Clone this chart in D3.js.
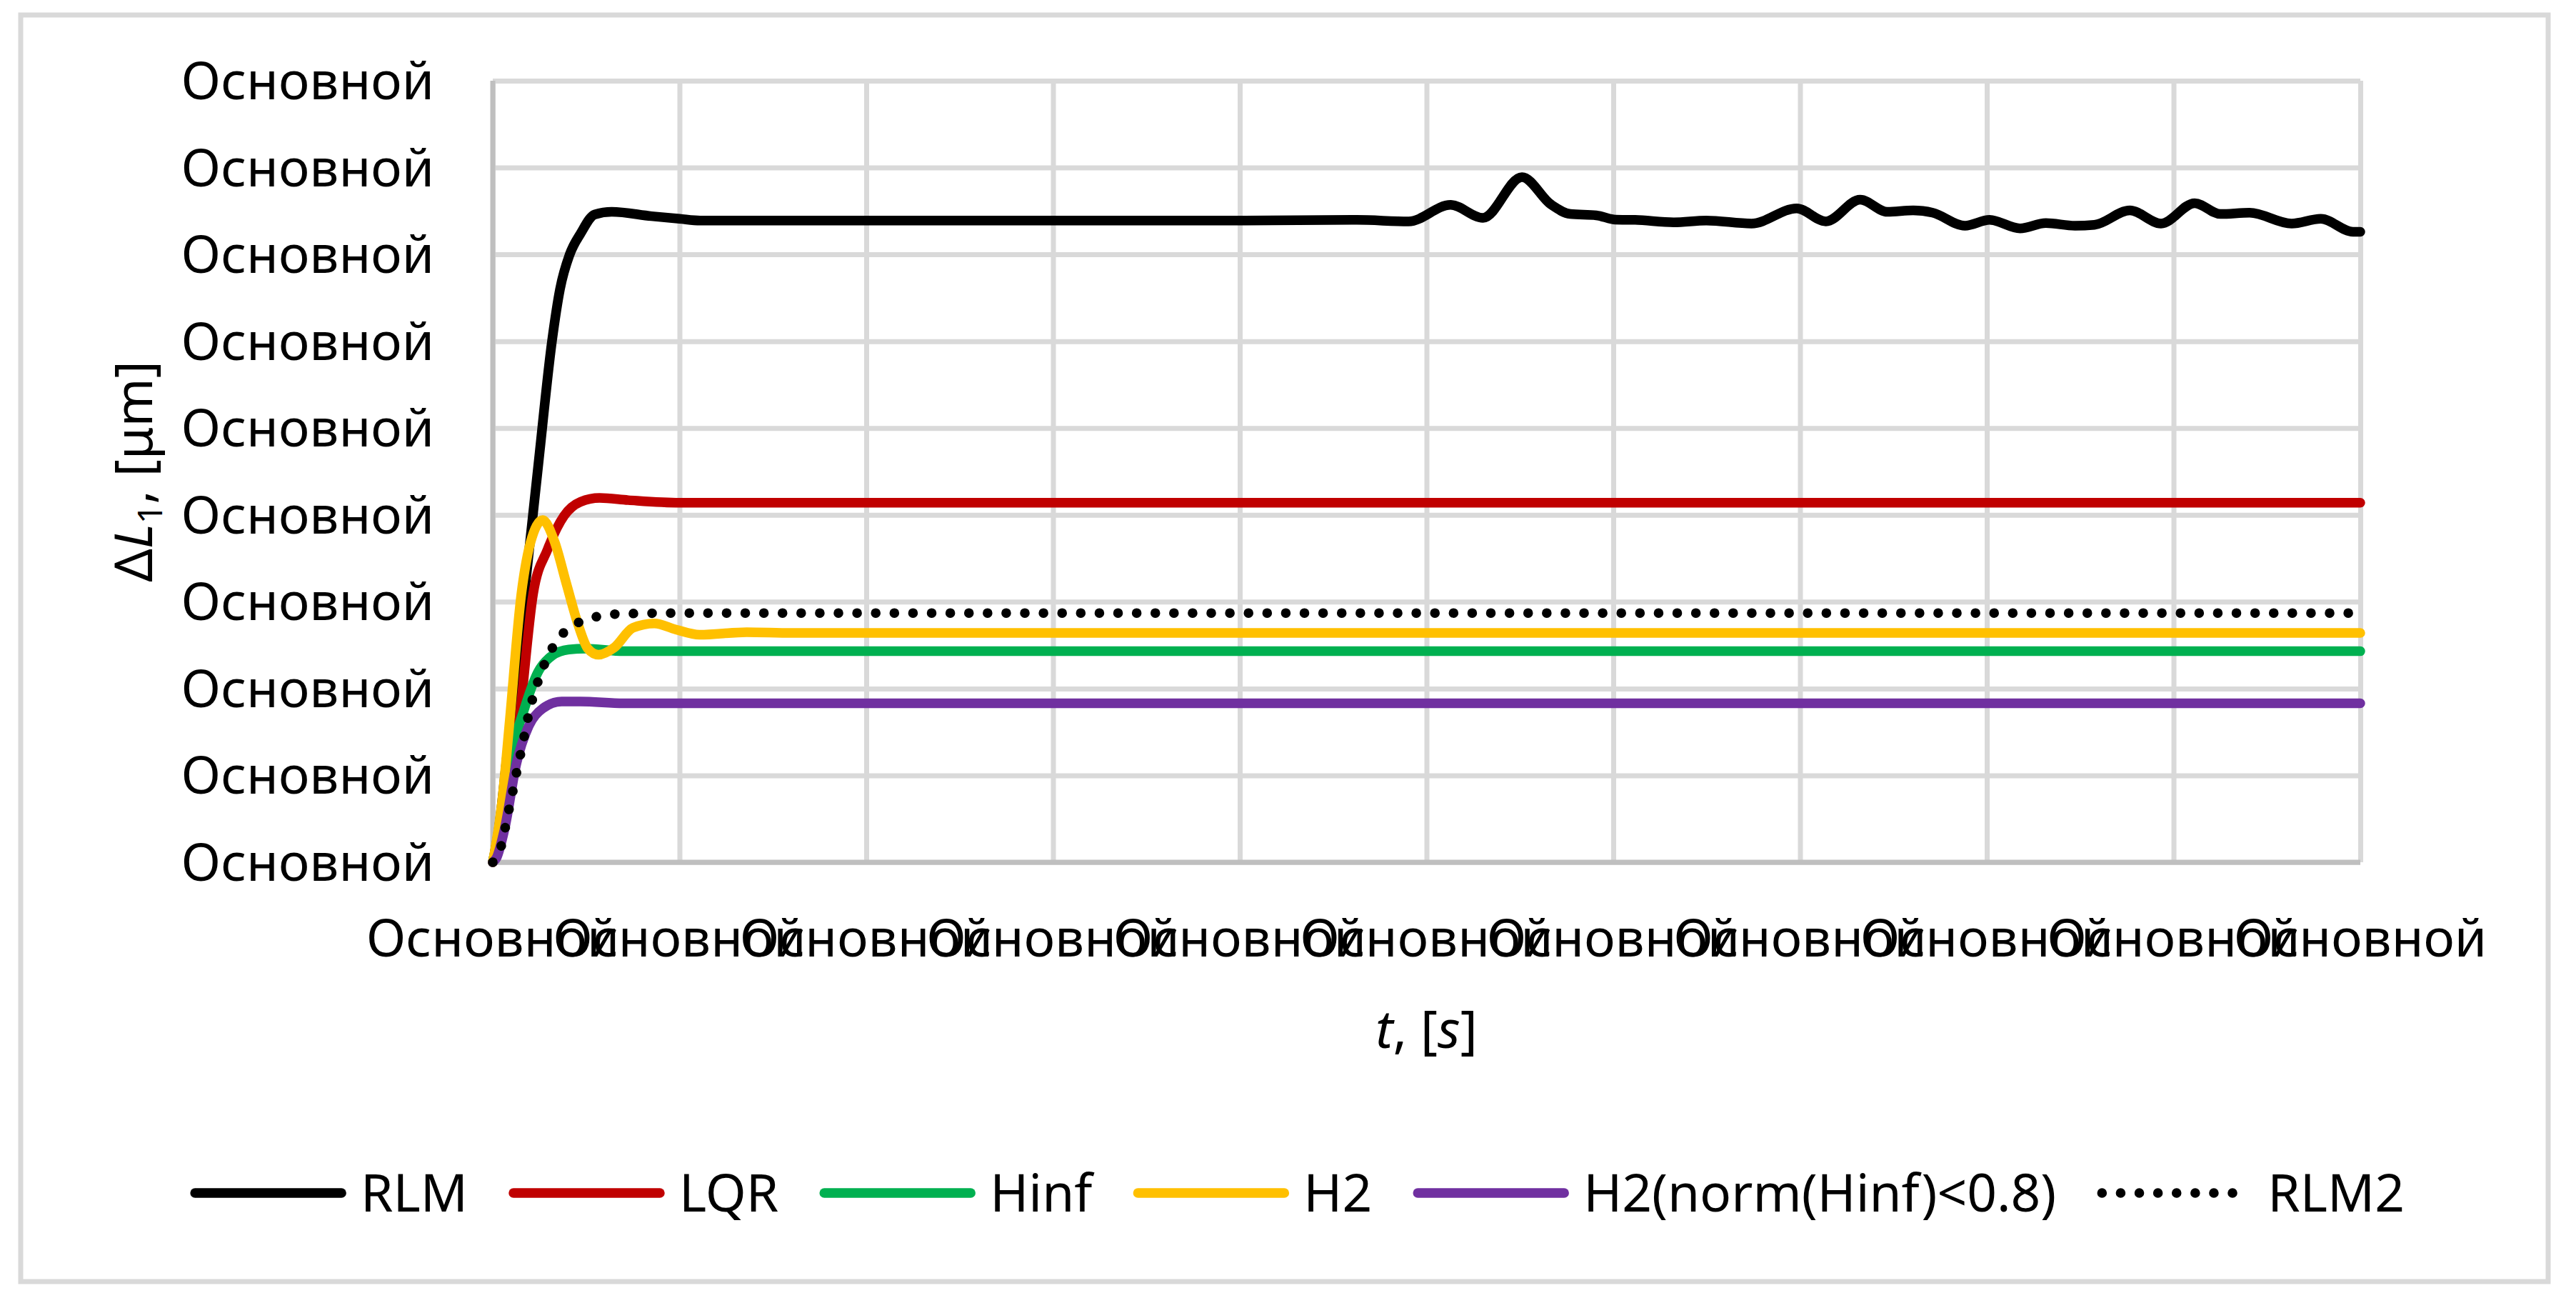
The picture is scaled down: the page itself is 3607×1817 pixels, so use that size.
<!DOCTYPE html>
<html>
<head>
<meta charset="utf-8">
<script src="https://cdn.jsdelivr.net/npm/d3@7"></script>
<style>
  body { margin: 0; background: #fff; overflow: hidden; }
  text { font-family: "Noto Sans", "Open Sans", sans-serif; fill: #000; }
</style>
</head>
<body>
<svg id="chart" width="3607" height="1817"></svg>
<script>
// axis tick labels (the original file shows a broken placeholder everywhere)
const xTicks = [0, 1, 2, 3, 4, 5, 6, 7, 8, 9, 10];
const yTicks = [0, 1, 2, 3, 4, 5, 6, 7, 8, 9];
const tickLabel = "Основной";

const seriesNames = ["RLM", "LQR", "Hinf", "H2", "H2(norm(Hinf)<0.8)", "RLM2"];
const seriesColors = ["#000000", "#C00000", "#00B050", "#FFC000", "#7030A0", "#000000"];

// RLM
const rlmT = [0, 0.03, 0.08, 0.13, 0.18, 0.244, 0.317, 0.36, 0.412, 0.47, 0.546, 0.637, 0.85, 1.0, 1.11, 2.0, 3.0, 4.0,
  4.627, 4.904, 5.129, 5.302, 5.511, 5.666, 5.770, 5.909, 6.013, 6.117, 6.324, 6.498, 6.740, 6.982, 7.138, 7.322,
  7.468, 7.606, 7.710, 7.883, 8.015, 8.178, 8.316, 8.472, 8.576, 8.766, 8.933, 9.113, 9.251, 9.407, 9.632, 9.788, 9.961, 10];
const rlmV = [0, 0.35, 1.3, 2.3, 3.3, 4.58, 6.0, 6.6, 7.0, 7.24, 7.46, 7.49, 7.44, 7.41, 7.39, 7.39, 7.39, 7.39,
  7.397, 7.38, 7.57, 7.42, 7.89, 7.575, 7.465, 7.45, 7.40, 7.397, 7.37, 7.39, 7.355, 7.53, 7.38, 7.63,
  7.49, 7.506, 7.48, 7.33, 7.397, 7.30, 7.36, 7.33, 7.34, 7.506, 7.355, 7.59, 7.465, 7.48, 7.355, 7.41, 7.26, 7.26];

// LQR
const lqrT = [0, 0.05, 0.10, 0.14, 0.216, 0.293, 0.382, 0.47, 0.572, 0.725, 1.0, 10];
const lqrV = [0, 0.3, 0.9, 1.59, 3.09, 3.6, 3.99, 4.15, 4.195, 4.17, 4.14, 4.14];

// Hinf
const hinfT = [0, 0.04, 0.089, 0.165, 0.242, 0.318, 0.407, 0.496, 0.7, 10];
const hinfV = [0, 0.4, 1.14, 1.74, 2.19, 2.38, 2.45, 2.46, 2.43, 2.43];

// H2
const h2T = [0, 0.013, 0.05, 0.089, 0.153, 0.203, 0.267, 0.331, 0.394, 0.458, 0.509, 0.566, 0.649, 0.751, 0.865, 0.98, 1.107, 1.36, 1.6, 10];
const h2V = [0, 0.15, 0.7, 1.59, 3.09, 3.69, 3.94, 3.69, 3.21, 2.73, 2.46, 2.39, 2.47, 2.70, 2.75, 2.68, 2.62, 2.65, 2.64, 2.64];

// H2(norm(Hinf)<0.8)
const h2nT = [0, 0.02, 0.064, 0.127, 0.191, 0.267, 0.369, 0.47, 0.7, 10];
const h2nV = [0, 0.05, 0.39, 1.14, 1.56, 1.77, 1.85, 1.85, 1.83, 1.83];

// RLM2
const rlm2T = [0, 0.045, 0.066, 0.086, 0.104, 0.123, 0.142, 0.162, 0.181, 0.201, 0.227, 0.258, 0.295, 0.343, 0.41, 0.494, 0.585, 0.68, 1.0, 10];
const rlm2V = [0, 0.185, 0.39, 0.6, 0.78, 0.99, 1.18, 1.38, 1.59, 1.785, 1.98, 2.18, 2.37, 2.55, 2.70, 2.79, 2.84, 2.86, 2.87, 2.87];

const seriesT = [rlmT, lqrT, hinfT, h2T, h2nT, rlm2T];
const seriesV = [rlmV, lqrV, hinfV, h2V, h2nV, rlm2V];

const svg = d3.select('#chart');
const fontSize = 73;

// outer chart border
svg.append('rect')
  .attr('x', 29).attr('y', 21)
  .attr('width', 3539).attr('height', 1773)
  .attr('fill', '#fff')
  .attr('stroke', '#d9d9d9')
  .attr('stroke-width', 7);

// the margin convention
const margin = { top: 113, right: 302, bottom: 610, left: 690 };
const innerWidth = 3607 - margin.left - margin.right;
const innerHeight = 1817 - margin.top - margin.bottom;

const xScale = d3.scaleLinear().domain([0, 10]).range([0, innerWidth]);
const yScale = d3.scaleLinear().domain([0, 9]).range([innerHeight, 0]);

const g = svg.append('g')
  .attr('transform', `translate(${margin.left}, ${margin.top})`);

// gridlines
g.append('g')
  .call(d3.axisLeft(yScale).tickValues(yTicks).tickSize(-innerWidth).tickFormat(''))
  .call(a => a.select('.domain').remove())
  .selectAll('line').attr('stroke', '#d9d9d9').attr('stroke-width', 7);

g.append('g')
  .attr('transform', `translate(0, ${innerHeight})`)
  .call(d3.axisBottom(xScale).tickValues(xTicks).tickSize(-innerHeight).tickFormat(''))
  .call(a => a.select('.domain').remove())
  .selectAll('line').attr('stroke', '#d9d9d9').attr('stroke-width', 7);

// axis lines
g.append('line')
  .attr('x1', 0).attr('x2', 0).attr('y1', 0).attr('y2', innerHeight)
  .attr('stroke', '#bfbfbf').attr('stroke-width', 7);
g.append('line')
  .attr('x1', 0).attr('x2', innerWidth).attr('y1', innerHeight).attr('y2', innerHeight)
  .attr('stroke', '#bfbfbf').attr('stroke-width', 7);

// tick labels
g.append('g').selectAll('text').data(yTicks)
  .enter().append('text')
  .attr('x', -82)
  .attr('y', d => yScale(d) + 26)
  .attr('text-anchor', 'end')
  .attr('font-size', fontSize)
  .text(tickLabel);

g.append('g').selectAll('text').data(xTicks)
  .enter().append('text')
  .attr('x', d => xScale(d))
  .attr('y', innerHeight + 132)
  .attr('text-anchor', 'middle')
  .attr('font-size', fontSize)
  .text(tickLabel);

// series lines
const line = d3.line()
  .x(d => xScale(d[0]))
  .y(d => yScale(d[1]))
  .curve(d3.curveMonotoneX);

seriesNames.forEach((name, i) => {
  const pts = seriesT[i].map((t, k) => [t, seriesV[i][k]]);
  const path = g.append('path')
    .datum(pts)
    .attr('d', line)
    .attr('fill', 'none')
    .attr('stroke', seriesColors[i])
    .attr('stroke-width', 13.5)
    .attr('stroke-linejoin', 'round')
    .attr('stroke-linecap', 'round');
  if (name === 'RLM2') {
    path.attr('stroke-dasharray', '0.1 26');
  }
});

// axis titles
const xTitle = svg.append('text')
  .attr('x', margin.left + innerWidth / 2)
  .attr('y', 1467)
  .attr('text-anchor', 'middle')
  .attr('font-size', fontSize);
xTitle.append('tspan').attr('font-style', 'italic').text('t');
xTitle.append('tspan').text(', [');
xTitle.append('tspan').attr('font-style', 'italic').text('s');
xTitle.append('tspan').text(']');

const yTitle = svg.append('text')
  .attr('transform', `translate(213, ${margin.top + innerHeight / 2}) rotate(-90)`)
  .attr('text-anchor', 'middle')
  .attr('font-size', fontSize);
yTitle.append('tspan').text('Δ');
yTitle.append('tspan').attr('font-style', 'italic').text('L');
yTitle.append('tspan').attr('font-size', 48).attr('dy', 14).text('1');
yTitle.append('tspan').attr('dy', -14).text(', [μm]');

// legend
const legend = svg.append('g');
let lx = 0;
seriesNames.forEach((name, i) => {
  const item = legend.append('g').attr('transform', `translate(${lx}, 0)`);
  const sample = item.append('line')
    .attr('x1', 6).attr('x2', 211).attr('y1', 0).attr('y2', 0)
    .attr('stroke', seriesColors[i])
    .attr('stroke-width', 13.5)
    .attr('stroke-linecap', 'round');
  if (name === 'RLM2') {
    sample.attr('stroke-dasharray', '0.1 26');
  }
  const label = item.append('text')
    .attr('x', 238)
    .attr('y', 26)
    .attr('font-size', fontSize)
    .text(name);
  lx += 238 + label.node().getComputedTextLength() + 58;
});
const legendWidth = lx - 58;
legend.attr('transform', `translate(${1817 - legendWidth / 2}, 1670)`);
</script>
</body>
</html>
